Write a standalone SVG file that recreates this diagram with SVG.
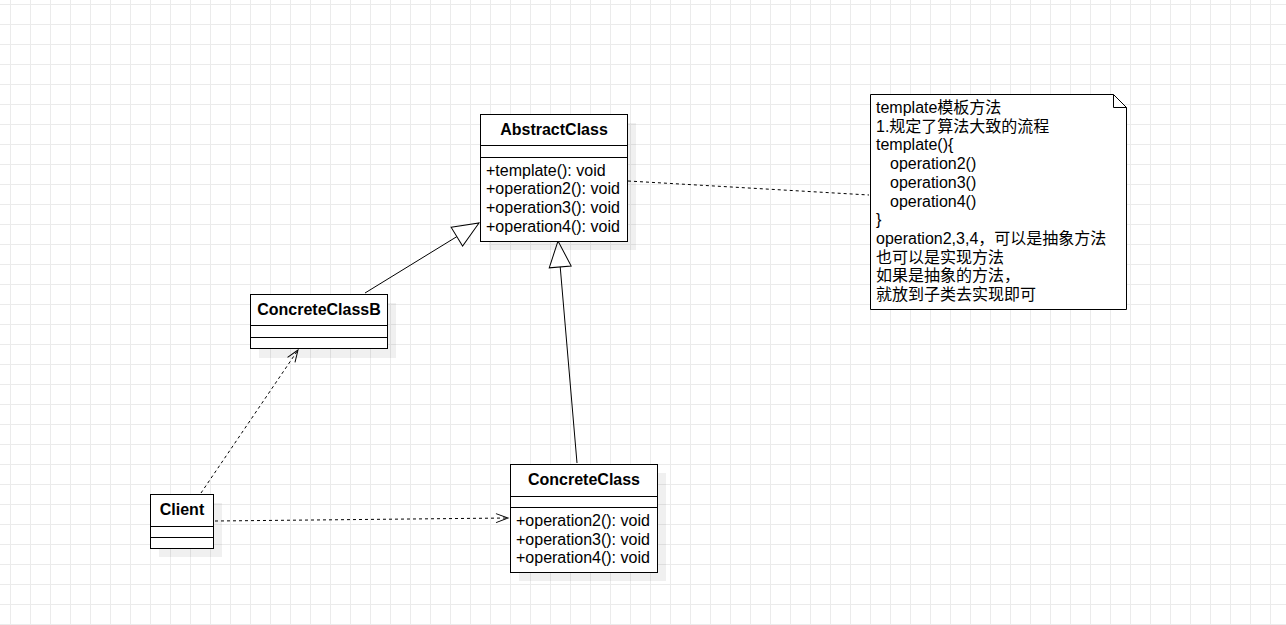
<svg xmlns="http://www.w3.org/2000/svg" width="1286" height="625" viewBox="0 0 1286 625">
<defs>
<pattern id="grid" x="0" y="0" width="20" height="20" patternUnits="userSpaceOnUse">
<path d="M10.5,0 V20 M0,4.5 H20" stroke="#ebebeb" stroke-width="1" fill="none"/>
</pattern>
<marker id="tri" markerUnits="userSpaceOnUse" markerWidth="28" markerHeight="24" refX="26" refY="11" orient="auto" overflow="visible">
<path d="M0,0 L26,11 L0,22 Z" fill="#fff" stroke="#000" stroke-width="1"/>
</marker>
<marker id="open" markerUnits="userSpaceOnUse" markerWidth="14" markerHeight="12" refX="12" refY="4.5" orient="auto" overflow="visible">
<path d="M0,0 L12,4.5 L0,9" fill="none" stroke="#000" stroke-width="1"/>
</marker>
</defs>
<style>
.box{fill:#fff;stroke:#000;stroke-width:1}
.shadow{fill:#000;opacity:0.06}
.sep{stroke:#000;stroke-width:1}
.title{font-family:"Liberation Sans",Arial,sans-serif;font-size:16px;font-weight:bold;text-anchor:middle;fill:#000}
.mem{font-family:"Liberation Sans",Arial,sans-serif;font-size:16px;fill:#000}
.note{font-family:"Liberation Sans","Noto Sans CJK SC",sans-serif;font-size:16px;fill:#000}
.solid{stroke:#000;stroke-width:1;fill:none}
.dash{stroke:#000;stroke-width:1;fill:none;stroke-dasharray:3 3}
</style>
<rect width="1286" height="625" fill="#fff"/>
<rect width="1286" height="625" fill="url(#grid)"/>

<g id="connectors">
<path class="solid" d="M365,293 L479,223" marker-end="url(#tri)"/>
<path class="solid" d="M577,463 L558,241" marker-end="url(#tri)"/>
<path class="dash" d="M201,493 L298,350" marker-end="url(#open)"/>
<path class="dash" d="M215,521 L508,518" marker-end="url(#open)"/>
<path class="dash" d="M628,181 L869,195"/>
</g>

<g id="AbstractClass">
<rect class="shadow" x="489" y="123" width="147" height="127"/>
<rect class="box" x="480.5" y="114.5" width="147" height="127"/>
<line class="sep" x1="480.5" y1="145.5" x2="627.5" y2="145.5"/>
<line class="sep" x1="480.5" y1="157.5" x2="627.5" y2="157.5"/>
<text class="title" x="554" y="135">AbstractClass</text>
<text class="mem" x="486" y="175.5">+template(): void</text>
<text class="mem" x="486" y="194">+operation2(): void</text>
<text class="mem" x="486" y="213">+operation3(): void</text>
<text class="mem" x="486" y="232">+operation4(): void</text>
</g>

<g id="ConcreteClassB">
<rect class="shadow" x="259" y="303" width="137" height="55"/>
<rect class="box" x="250.5" y="294.5" width="137" height="54"/>
<line class="sep" x1="250.5" y1="325.5" x2="387.5" y2="325.5"/>
<line class="sep" x1="250.5" y1="337.5" x2="387.5" y2="337.5"/>
<text class="title" x="319" y="314.5">ConcreteClassB</text>
</g>

<g id="Client">
<rect class="shadow" x="159" y="503" width="63" height="54"/>
<rect class="box" x="150.5" y="494.5" width="63" height="54"/>
<line class="sep" x1="150.5" y1="526.5" x2="213.5" y2="526.5"/>
<line class="sep" x1="150.5" y1="537.5" x2="213.5" y2="537.5"/>
<text class="title" x="182" y="514.5">Client</text>
</g>

<g id="ConcreteClass">
<rect class="shadow" x="519" y="473" width="147" height="108"/>
<rect class="box" x="510.5" y="464.5" width="147" height="108"/>
<line class="sep" x1="510.5" y1="496.5" x2="657.5" y2="496.5"/>
<line class="sep" x1="510.5" y1="507.5" x2="657.5" y2="507.5"/>
<text class="title" x="584" y="484.5">ConcreteClass</text>
<text class="mem" x="516" y="525.5">+operation2(): void</text>
<text class="mem" x="516" y="544.5">+operation3(): void</text>
<text class="mem" x="516" y="563">+operation4(): void</text>
</g>

<g id="note">
<path class="box" d="M870.5,94.5 H1113.5 L1126.5,107.5 V309.5 H870.5 Z"/>
<path class="solid" d="M1113.5,94.5 V107.5 H1126.5"/>
<text class="note" x="876" y="113">template模板方法</text>
<text class="note" x="876" y="131.7">1.规定了算法大致的流程</text>
<text class="note" x="876" y="150.4">template(){</text>
<text class="note" x="890" y="169.1">operation2()</text>
<text class="note" x="890" y="187.8">operation3()</text>
<text class="note" x="890" y="206.5">operation4()</text>
<text class="note" x="876" y="225.2">}</text>
<text class="note" x="876" y="243.9">operation2,3,4，可以是抽象方法</text>
<text class="note" x="876" y="262.6">也可以是实现方法</text>
<text class="note" x="876" y="281.3">如果是抽象的方法，</text>
<text class="note" x="876" y="300">就放到子类去实现即可</text>
</g>
</svg>
